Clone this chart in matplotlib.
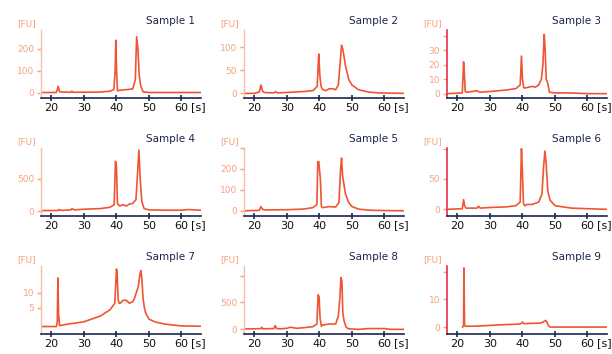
import matplotlib
matplotlib.use("Agg")
import matplotlib.pyplot as plt
import matplotlib.transforms as mtransforms

# Migration time [s] / fluorescence [FU]
t1 = [17, 21.5, 21.9, 22.1, 22.5, 26, 26.3, 26.6, 35, 38, 39.2, 39.6, 39.8, 40.0, 40.3, 41, 45, 45.8, 46.2, 46.6, 47.0, 47.5, 48.2, 50, 66]
fu1 = [2, 2, 20, 30, 5, 3, 8, 3, 4, 8, 15, 100, 240, 120, 10, 12, 18, 60, 255, 200, 80, 30, 5, 2, 2]

t2 = [17, 20, 21.5, 22, 22.5, 23, 26, 26.5, 27, 30, 35, 38, 39.3, 39.6, 39.8, 40.1, 40.5, 41, 42, 43, 44, 45, 45.8, 46.3, 46.8, 47.2, 48, 49, 50, 52, 55, 58, 66]
fu2 = [0, 0, 3, 18, 5, 2, 1, 4, 1, 2, 4, 6, 15, 60, 85, 40, 15, 8, 6, 10, 10, 8, 18, 60, 104, 95, 60, 30, 18, 8, 3, 1, 0]

t3 = [17, 21.5, 21.9, 22.1, 22.4, 23, 26, 27, 30, 35, 38, 39.3, 39.7, 40.0, 40.4, 41, 43, 44, 45, 45.8, 46.3, 46.7, 47.0, 47.3, 47.8, 48.3, 50, 55, 60, 66]
fu3 = [0, 0.5, 22, 15, 1.5, 1, 2, 1, 1.5, 2.5, 3.5, 6, 26, 10, 4, 4, 5, 4.5, 6, 10, 20, 41, 30, 10, 7, 1, 0.5, 0.5, 0, 0]

t4 = [17, 20, 22, 22.3, 23, 26, 26.3, 27, 30, 35, 38, 39.3, 39.7, 40.0, 40.3, 41, 42, 43, 44, 45, 46, 46.5, 46.9, 47.3, 47.8, 48.5, 50, 55, 60, 62, 64, 66]
fu4 = [10, 10, 10, 25, 12, 20, 40, 20, 30, 40, 60, 100, 775, 700, 120, 80, 100, 80, 110, 120, 180, 600, 950, 500, 150, 40, 20, 15, 15, 25, 20, 15]

t5 = [17, 21.5, 22, 22.5, 23, 30, 35, 38, 39.2, 39.5, 39.8, 40.0, 40.3, 40.6, 41, 43, 45, 46, 46.5, 46.8, 47.1, 47.5, 48, 49, 50, 52, 55, 60, 66]
fu5 = [0, 2, 20, 8, 4, 5, 8, 15, 30, 235, 235, 200, 150, 20, 15, 20, 18, 40, 200, 252, 170, 130, 80, 40, 20, 8, 3, 1, 0]

t6 = [17, 21.5, 21.9, 22.2, 22.6, 26, 26.5, 27, 30, 35, 38, 39.3, 39.7, 40.0, 40.3, 40.7, 41.5, 43, 44, 45, 46, 46.5, 46.9, 47.3, 47.8, 48.5, 50, 55, 60, 66]
fu6 = [0, 1, 16, 6, 2, 2, 5, 2, 3, 4, 6, 12, 100, 60, 10, 6, 8, 8, 10, 12, 25, 70, 96, 75, 30, 15, 6, 2, 1, 0]

t7 = [17, 21.5, 21.8, 22.0, 22.2, 22.5, 25, 30, 35, 38, 39.5, 40.0, 40.2, 40.5, 40.8, 41.2, 42, 43, 44, 44.5, 45, 45.5, 46, 46.7, 47.2, 47.5, 47.8, 48.2, 48.6, 49, 50, 52, 55, 60, 66]
fu7 = [-1.3, -1.3, 0, 15, 3, -1, -0.5, 0.3, 2.2, 4.3, 6.5, 18, 17, 8, 6.5, 6.5, 7.5, 7.5, 6.5, 6.8, 7.0, 8.0, 9.7, 12, 16, 17.5, 15, 8, 5, 3.2, 1.2, 0.2, -0.5, -1.1, -1.2]

t8 = [17, 20, 22, 22.3, 22.6, 26, 26.4, 26.8, 28, 30, 31, 33, 35, 38, 39.2, 39.6, 39.9, 40.2, 40.6, 41, 43, 45, 45.8, 46.3, 46.6, 46.9, 47.2, 47.6, 48.2, 49, 52, 55, 60, 62, 66]
fu8 = [10, 10, 15, 40, 10, 15, 70, 15, 10, 20, 40, 20, 30, 50, 100, 643, 600, 200, 60, 80, 100, 100, 250, 600, 965, 900, 300, 150, 40, 10, 0, 15, 15, 0, 0]

t9 = [21.6, 21.9, 22.0, 22.2, 22.5, 25, 30, 35, 38, 39.5, 40, 40.5, 42, 45, 46, 47.2, 47.6, 48, 48.5, 66]
fu9 = [0, 0.5, 21.3, 0.5, 0.3, 0.3, 0.6, 0.9, 1.0, 1.2, 1.8, 1.2, 1.3, 1.4, 1.6, 2.4, 1.5, 0.5, 0, 0]

times = [t1, t2, t3, t4, t5, t6, t7, t8, t9]
signals = [fu1, fu2, fu3, fu4, fu5, fu6, fu7, fu8, fu9]
titles = ["Sample %d" % i for i in range(1, 10)]

ylims = [(-23, 286), (-10, 137), (-3, 44), (-75, 980), (-25, 297), (-11, 101), (-3.8, 19), (-86, 1178), (-2.5, 22)]
yticks = [[0, 100, 200], [0, 50, 100], [0, 10, 20, 30, 40], [0, 500], [0, 100, 200, 300],
          [0, 50, 100], [5, 10], [0, 500, 1000], [0, 10, 20]]
ylabels = [["0", "100", "200"], ["0", "50", "100"], ["0", "10", "20", "30", ""], ["0", "500"],
           ["0", "100", "200", ""], ["0", "50", ""], ["5", "10"], ["0", "500", ""], ["0", "10", ""]]

trace_col = "#ef5532"
orange = "#f5a27c"
navy = "#1b2550"

W, H = 612, 354
fig = plt.figure(figsize=(W / 100, H / 100), dpi=100)

lefts = [41, 244, 447]
bottoms = [98, 216, 334]
aw, ah = 160, 68

for i in range(9):
    r, c = divmod(i, 3)
    ax = fig.add_axes([lefts[c] / W, 1 - bottoms[r] / H, aw / W, ah / H])
    ax.plot(times[i], signals[i], color=trace_col, lw=1.2)
    ax.set_xlim(16.8, 66)
    ax.set_ylim(*ylims[i])
    ax.set_xticks([20, 30, 40, 50, 60])
    ax.set_yticks(yticks[i])
    ax.set_yticklabels(ylabels[i])

    ax.spines["top"].set_visible(False)
    ax.spines["right"].set_visible(False)
    ax.spines["bottom"].set_color(navy)
    ax.spines["bottom"].set_linewidth(1.2)
    if c == 2:
        ax.spines["left"].set_color("#e8304a")
        ax.spines["left"].set_linewidth(1.2)
    else:
        ax.spines["left"].set_color("#f9bfa4")
        ax.spines["left"].set_linewidth(1.0)

    ax.tick_params(axis="x", direction="inout", length=5, width=1.2, color=navy,
                   labelsize=8, labelcolor="#111111", pad=1)
    ax.tick_params(axis="y", direction="out", length=3, width=1.0, color=orange,
                   labelsize=6.5, labelcolor=orange, pad=2)

    ax.text(0.96, 1.13, titles[i], transform=ax.transAxes, ha="right", va="center",
            fontsize=7.5, color=navy)
    ax.text(-0.03, 1.1, "[FU]", transform=ax.transAxes, ha="right", va="center",
            fontsize=6.5, color=orange)
    trans = mtransforms.blended_transform_factory(ax.transData, ax.transAxes)
    ax.text(65.2, -0.065, "[s]", transform=trans, ha="center", va="top",
            fontsize=8, color="#111111")

fig.savefig("out.png", dpi=100)
